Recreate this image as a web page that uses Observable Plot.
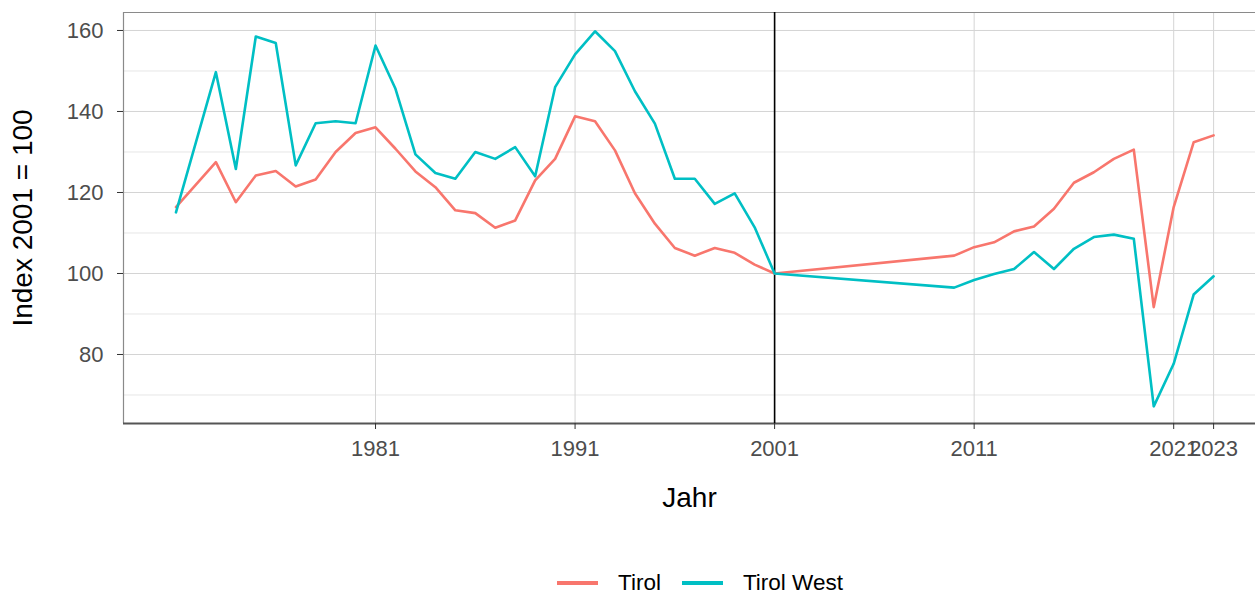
<!DOCTYPE html>
<html>
<head>
<meta charset="utf-8">
<script src="https://cdn.jsdelivr.net/npm/d3@7"></script>
<script src="https://cdn.jsdelivr.net/npm/@observablehq/plot@0.6"></script>
<style>
  html, body { margin: 0; padding: 0; background: #fff; }
  body { width: 1255px; height: 595px; position: relative; overflow: hidden; font-family: "Liberation Sans", Arial, sans-serif; }
  #legend { position: absolute; left: 557px; top: 572px; height: 22px; line-height: 22px; display: flex; align-items: center; font-size: 22.5px; color: #000; }
  .key { width: 41px; height: 3.5px; display: inline-block; }
  .lab { margin-left: 20px; margin-right: 21px; line-height: 22px; }
</style>
</head>
<body>
<div id="chart"></div>
<div id="legend"></div>
<script>
const years = [1971, 1973, 1974, 1975, 1976, 1977, 1978, 1979, 1980, 1981,
  1982, 1983, 1984, 1985, 1986, 1987, 1988, 1989, 1990, 1991,
  1992, 1993, 1994, 1995, 1996, 1997, 1998, 1999, 2000, 2001,
  2010, 2011, 2012, 2013, 2014, 2015, 2016, 2017, 2018, 2019,
  2020, 2021, 2022, 2023];
const tirol = [116.4, 127.5, 117.6, 124.2, 125.3, 121.5, 123.2, 130.0, 134.7, 136.1,
  130.8, 125.2, 121.3, 115.6, 114.9, 111.3, 113.1, 123.0, 128.3, 138.8,
  137.6, 130.4, 119.8, 112.3, 106.3, 104.4, 106.3, 105.1, 102.2, 100.0,
  104.4, 106.5, 107.7, 110.4, 111.6, 116.0, 122.4, 125.0, 128.3, 130.6,
  91.7, 116.4, 132.4, 134.1];
const tirolWest = [115.1, 149.7, 125.8, 158.5, 156.9, 126.7, 137.1, 137.6, 137.1, 156.3,
  145.6, 129.4, 124.8, 123.4, 130.0, 128.3, 131.2, 124.0, 146.0, 154.1,
  159.8, 154.9, 145.0, 137.0, 123.4, 123.4, 117.2, 119.8, 111.4, 100.0,
  96.5, 98.4, 99.9, 101.1, 105.3, 101.1, 106.1, 109.0, 109.6, 108.6,
  67.2, 77.7, 94.8, 99.3];
const seriesNames = ["Tirol", "Tirol West"];
const seriesColors = ["#F8766D", "#00BFC4"];
const xTicks = [1981, 1991, 2001, 2011, 2021, 2023];
const yTicks = [80, 100, 120, 140, 160];
const yMinor = [70, 90, 110, 130, 150];
const refYear = [2001];
const xDomain = [1968.37, 2025.1];
const yDomain = [62.96, 164.44];

const data = [];
years.forEach((yr, i) => {
  data.push({Jahr: yr, value: tirol[i], series: seriesNames[0]});
  data.push({Jahr: yr, value: tirolWest[i], series: seriesNames[1]});
});

const plot = Plot.plot({
  width: 1255,
  height: 562,
  marginTop: 12,
  marginLeft: 123,
  marginRight: 0,
  marginBottom: 139,
  style: { fontFamily: "'Liberation Sans', Arial, sans-serif", background: "#fff" },
  x: { domain: xDomain },
  y: { domain: yDomain },
  color: { domain: seriesNames, range: seriesColors },
  marks: [
    Plot.ruleY(yMinor, { stroke: "#e6e6e6", strokeWidth: 1 }),
    Plot.gridY(yTicks, { stroke: "#d4d4d4", strokeOpacity: 1, strokeWidth: 1 }),
    Plot.gridX(xTicks, { stroke: "#d4d4d4", strokeOpacity: 1, strokeWidth: 1 }),
    Plot.ruleY([yDomain[1]], { stroke: "#8a8a8a", strokeWidth: 1.2 }),
    Plot.ruleX([xDomain[0]], { stroke: "#8a8a8a", strokeWidth: 1.2 }),
    Plot.ruleY([yDomain[0]], { stroke: "#555", strokeWidth: 1.8 }),
    Plot.ruleX(refYear, { stroke: "#000", strokeWidth: 1.6 }),
    Plot.line(data, { x: "Jahr", y: "value", z: "series", stroke: "series", strokeWidth: 2.6, strokeLinejoin: "round" }),
    Plot.axisX(xTicks, { tickFormat: d => String(d), tickSize: 6, tickPadding: 11, fontSize: 22, color: "#4d4d4d", stroke: "#333", label: null }),
    Plot.axisY(yTicks, { tickSize: 6, tickPadding: 14, fontSize: 22, color: "#4d4d4d", stroke: "#333", label: null }),
    Plot.text(["Jahr"], { frameAnchor: "bottom", dy: 75, fontSize: 28, fill: "#000", lineAnchor: "middle" }),
    Plot.text(["Index 2001 = 100"], { frameAnchor: "left", dx: -100, rotate: -90, fontSize: 28, fill: "#000", lineAnchor: "middle", textAnchor: "middle" })
  ]
});
document.getElementById("chart").appendChild(plot);

const legend = document.getElementById("legend");
seriesNames.forEach((name, i) => {
  const k = document.createElement("span");
  k.className = "key";
  k.style.background = seriesColors[i];
  legend.appendChild(k);
  const t = document.createElement("span");
  t.className = "lab";
  t.textContent = name;
  legend.appendChild(t);
});
</script>
</body>
</html>
